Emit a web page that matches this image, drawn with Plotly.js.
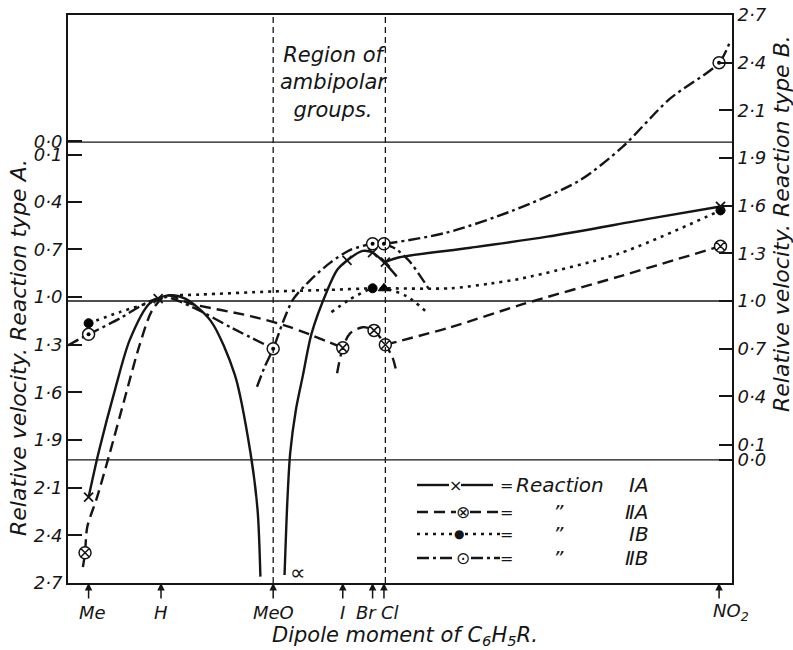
<!DOCTYPE html>
<html><head><meta charset="utf-8">
<script src="https://cdn.plot.ly/plotly-3.0.1.min.js"></script>
<style>html,body{margin:0;padding:0;background:#fff}#chart{width:793px;height:650px}</style>
</head><body><div id="chart"></div>
<script>
// ---------- DATA ----------
// substituents R of C6H5R, placed along the dipole-moment axis
const substituents = ['Me', 'H', 'MeO', 'I', 'Br', 'Cl', 'NO<sub>2</sub>'];
const substituentX = [-0.51, 0, 0.79, 1.28, 1.49, 1.57, 3.93];

// left axis (reaction type A) tick labels, right axis (reaction type B) tick labels
const leftTickText  = ['0·0','0·1','0·4','0·7','1·0','1·3','1·6','1·9','2·1','2·4','2·7'];
const leftTickVals  = [0.02, 0.105, 0.4, 0.7, 1.0, 1.3, 1.6, 1.9, 2.2, 2.5, 2.8];
const rightTickText = ['2·7','2·4','2·1','1·9','1·6','1·3','1·0','0·7','0·4','0·1','0·0'];
const rightTickVals = [2.8, 2.5, 2.2, 1.9, 1.6, 1.3, 1.0, 0.7, 0.4, 0.095, 0.0];

// Reaction IA (left axis) – curve segments separated by null
const IA_x = [-0.51,-0.44,-0.32,-0.22,-0.08,0.05,0.17,0.35,0.52,0.63,0.68,0.70, null,
              0.87,0.89,0.91,0.95,1.00,1.06,1.17,1.24,1.31,1.42,1.49,1.58,1.66, null,
              1.58,1.68,2.18,2.72,3.42,3.94];
const IA_y = [2.26,1.98,1.57,1.27,1.04,0.99,1.01,1.15,1.49,1.98,2.34,2.76, null,
              2.75,2.28,1.98,1.71,1.49,1.23,0.96,0.83,0.77,0.71,0.72,0.79,0.87, null,
              0.78,0.75,0.69,0.62,0.51,0.43];
const IA_markX = [-0.51, -0.02, 1.31, 1.49, 1.58, 3.94];
const IA_markY = [2.26, 1.01, 0.77, 0.72, 0.78, 0.43];

// Reaction IIA (left axis)
const IIA_x = [-0.55,-0.535,-0.52,-0.45,-0.36,-0.25,-0.15,-0.06,0.04,0.20,0.63,0.91,1.28, null,
               1.24,1.28,1.33,1.42,1.50,1.54,1.58,1.63,1.66, null,
               1.58,2.04,2.53,3.23,3.94];
const IIA_y = [2.70,2.61,2.45,2.26,1.98,1.62,1.30,1.08,0.99,1.04,1.12,1.19,1.32, null,
               1.48,1.32,1.23,1.19,1.21,1.25,1.30,1.38,1.48, null,
               1.30,1.19,1.05,0.87,0.68];
const IIA_markX = [-0.535, 1.28, 1.50, 1.58, 3.94];
const IIA_markY = [2.61, 1.32, 1.21, 1.30, 0.68];

// Reaction IB (right axis)
const IB_x = [-0.51,-0.29,-0.08,0.05,0.27,0.79,1.19,1.49,1.57,2.04,2.32,2.53,3.23,3.94, null,
              1.20,1.33,1.49,1.57,1.73,1.87];
const IB_y = [0.86,0.93,0.99,1.03,1.04,1.06,1.07,1.08,1.08,1.08,1.11,1.14,1.30,1.57, null,
              0.93,1.01,1.08,1.08,1.03,0.93];
const IB_markX = [-0.51, 1.49, 3.94];
const IB_markY = [0.86, 1.08, 1.57];
const IB_clX = [1.57];          // Cl point, drawn as a small triangle in the original
const IB_clY = [1.08];

// Reaction IIB (right axis)
const IIB_x = [-0.655,-0.585,-0.51,-0.29,-0.10,0.03,0.225,0.50,0.79, null,
               0.676,0.73,0.79,0.86,0.93,1.05,1.19,1.33,1.49,1.57,2.01,2.48,2.95,3.25,3.58,3.93,4.01, null,
               1.57,1.65,1.75,1.89];
const IIB_y = [0.72,0.755,0.79,0.89,0.99,1.025,0.96,0.83,0.70, null,
               0.46,0.585,0.70,0.87,1.01,1.13,1.24,1.32,1.36,1.36,1.43,1.57,1.76,1.97,2.27,2.50,2.64, null,
               1.36,1.33,1.25,1.07];
const IIB_markX = [-0.51, 0.79, 1.49, 1.57, 3.93];
const IIB_markY = [0.79, 0.70, 1.36, 1.36, 2.50];

const legendLabels = [['Reaction', 'ⅠA'], ['”', 'ⅡA'], ['”', 'ⅠB'], ['”', 'ⅡB']];

// ---------- STYLE / LAYOUT ----------
const INK = '#151515';
const FONT = 'DejaVu Sans, Verdana, sans-serif';
const W = 793, H = 650, L = 68, R = 61, T = 15, B = 67;
const pw = W - L - R, ph = H - T - B;
const paperX = px => (px - L) / pw;
const paperY = py => (H - B - py) / ph;

const DASH_IIA = '11px,6px';
const DASH_IB = '3px,5px';
const DASH_IIB = '12px,4px,3px,4px';

function curve(x, y, axis, dash, width) {
  return {x, y, yaxis: axis, type: 'scatter', mode: 'lines', connectgaps: false, hoverinfo: 'skip',
          line: {shape: 'spline', smoothing: 0.8, color: INK, width, dash}};
}
function marks(x, y, axis, marker) {
  return {x, y, yaxis: axis, type: 'scatter', mode: 'markers', hoverinfo: 'skip', cliponaxis: false, marker};
}

const traces = [
  curve(IA_x, IA_y, 'y', 'solid', 2.4),
  curve(IIA_x, IIA_y, 'y', DASH_IIA, 2.4),
  marks(IIA_markX, IIA_markY, 'y', {symbol: 'circle-x', size: 12, color: '#fff', line: {color: INK, width: 1.5}}),
  curve(IB_x, IB_y, 'y2', DASH_IB, 2.6),
  curve(IIB_x, IIB_y, 'y2', DASH_IIB, 2.4),
  marks(IB_markX, IB_markY, 'y2', {symbol: 'circle', size: 9, color: '#000', opacity: 1, line: {color: '#000', width: 1}}),
  marks(IB_clX, IB_clY, 'y2', {symbol: 'triangle-up', size: 10, color: '#000', opacity: 1, line: {color: '#000', width: 1}}),
  marks(IIB_markX, IIB_markY, 'y2', {symbol: 'circle', size: 12, color: '#fff', line: {color: INK, width: 1.5}}),
  marks(IIB_markX, IIB_markY, 'y2', {symbol: 'circle', size: 4, color: '#000', line: {width: 0}}),
  // IA crosses on a top overlay of the left axis so they stay visible
  marks(IA_markX, IA_markY, 'y3', {symbol: 'x-thin', size: 9, color: INK, line: {color: INK, width: 1.8}})
];

const shapes = [
  // reference lines
  {type: 'line', xref: 'paper', x0: 0, x1: 1, yref: 'y', y0: 0.025, y1: 0.025, line: {color: INK, width: 1.3}},
  {type: 'line', xref: 'paper', x0: 0, x1: 1, yref: 'y2', y0: 1.0, y1: 1.0, line: {color: INK, width: 1.3}},
  {type: 'line', xref: 'paper', x0: 0, x1: 1, yref: 'y2', y0: 0.0, y1: 0.0, line: {color: INK, width: 1.3}},
  // ambipolar region boundaries
  {type: 'line', xref: 'x', x0: substituentX[2], x1: substituentX[2], yref: 'paper', y0: 0, y1: 1, line: {color: INK, width: 1.3, dash: '6px,4px'}},
  {type: 'line', xref: 'x', x0: 1.58, x1: 1.58, yref: 'paper', y0: 0, y1: 1, line: {color: INK, width: 1.3, dash: '6px,4px'}}
];

function txt(px, py, text, size, opts) {
  return Object.assign({xref: 'paper', yref: 'paper', x: paperX(px), y: paperY(py), text, showarrow: false,
    xanchor: 'center', yanchor: 'middle', font: {family: FONT, size, style: 'italic', color: INK}}, opts || {});
}

const annotations = [];
const labelShift = [4, 0, 0, 0, -6, 6, 12];
substituentX.forEach((x, i) => {
  annotations.push({x, y: 0, xref: 'x', yref: 'paper', ax: 0, ay: 17, text: '', showarrow: true,
    arrowhead: 2, arrowsize: 1, arrowwidth: 1.5, arrowcolor: INK});
  annotations.push({x, y: paperY(612), xref: 'x', yref: 'paper', text: substituents[i], showarrow: false,
    xshift: labelShift[i], xanchor: 'center', yanchor: 'middle', font: {family: FONT, size: 18, style: 'italic', color: INK}});
});

// axis titles and texts
annotations.push(txt(19, 348, 'Relative velocity. Reaction type A.', 22, {textangle: -90}));
annotations.push(txt(781, 224, 'Relative velocity. Reaction type B.', 22, {textangle: -90}));
annotations.push(txt(405, 636, 'Dipole moment of C<sub>6</sub>H<sub>5</sub>R.', 21));
annotations.push(txt(333, 83, 'Region of<br>ambipolar<br>groups.', 21, {align: 'center'}));
annotations.push(txt(298, 572, '∝', 22, {font: {family: FONT, size: 22, color: INK}}));

// custom legend
const rowY = [485, 512, 534, 558];
const legendDash = ['solid', DASH_IIA, DASH_IB, DASH_IIB];
const legendWidth = [2.4, 2.4, 2.6, 2.4];
const legendSegs = [[[417, 449], [461, 493]], [[417, 456], [470, 500]], [[417, 500]], [[417, 455], [471, 500]]];
const legendSym = [['×', 16, 455], ['⊗', 17, 463], ['●', 12, 459], ['⊙', 17, 463]];
rowY.forEach((py, i) => {
  legendSegs[i].forEach(s => shapes.push({type: 'line', xref: 'paper', yref: 'paper',
    x0: paperX(s[0]), x1: paperX(s[1]), y0: paperY(py), y1: paperY(py),
    line: {color: INK, width: legendWidth[i], dash: legendDash[i]}}));
  annotations.push(txt(legendSym[i][2], py, legendSym[i][0], legendSym[i][1], {font: {family: FONT, size: legendSym[i][1], color: INK}}));
  annotations.push(txt(506, py, '=', 16, {font: {family: FONT, size: 16, color: INK}}));
  if (i === 0) annotations.push(txt(514, py, legendLabels[i][0], 20, {xanchor: 'left'}));
  else annotations.push(txt(558, py, legendLabels[i][0], 20));
  annotations.push(txt(651, py, legendLabels[i][1], 20, {xanchor: 'right'}));
});

const tickFont = {family: FONT, size: 18, style: 'italic', color: INK};
const leftRange = [2.8, -0.775];
const layout = {
  width: W, height: H,
  margin: {l: L, r: R, t: T, b: B, pad: 0},
  paper_bgcolor: '#fff', plot_bgcolor: '#fff',
  showlegend: false, hovermode: false,
  font: {family: FONT, color: INK},
  xaxis: {range: [-0.655, 4.021], showgrid: false, zeroline: false, showticklabels: false, ticks: '',
          showline: true, mirror: true, linecolor: INK, linewidth: 2},
  yaxis: {range: leftRange, tickmode: 'array', tickvals: leftTickVals, ticktext: leftTickText,
          ticks: 'inside', ticklen: 14, tickwidth: 2, tickcolor: INK, tickfont: tickFont,
          showgrid: false, zeroline: false, showline: true, linecolor: INK, linewidth: 2},
  yaxis2: {range: [-0.775, 2.8], overlaying: 'y', side: 'right', tickmode: 'array', tickvals: rightTickVals, ticktext: rightTickText,
          ticks: 'inside', ticklen: 13, tickwidth: 2, tickcolor: INK, tickfont: tickFont,
          showgrid: false, zeroline: false, showline: true, linecolor: INK, linewidth: 2},
  yaxis3: {range: leftRange, overlaying: 'y', visible: false, showgrid: false, zeroline: false},
  shapes, annotations
};

Plotly.newPlot('chart', traces, layout, {staticPlot: true, displayModeBar: false});
</script>
</body></html>
